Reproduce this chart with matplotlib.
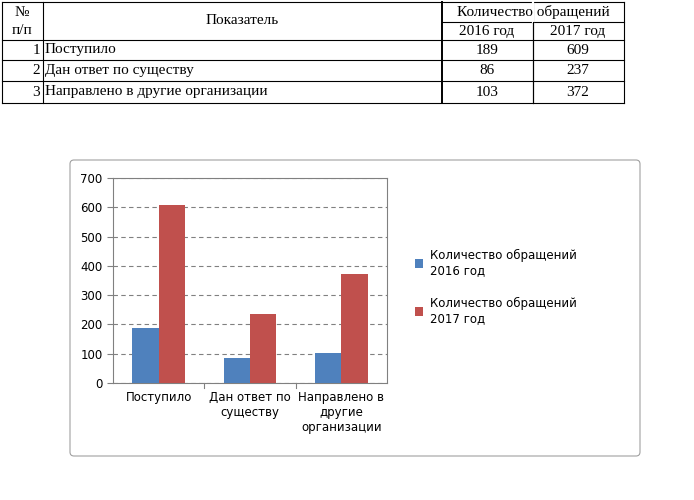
import matplotlib
matplotlib.use("Agg")
import matplotlib.pyplot as plt
from matplotlib.patches import FancyBboxPatch
import numpy as np

categories = ["Поступило", "Дан ответ по\nсуществу", "Направлено в\nдругие\nорганизации"]
table_names = ["Поступило", "Дан ответ по существу", "Направлено в другие организации"]
y2016 = [189, 86, 103]
y2017 = [609, 237, 372]
series_labels = ["Количество обращений\n2016 год", "Количество обращений\n2017 год"]
yticks = [0, 100, 200, 300, 400, 500, 600, 700]

W, H = 694, 500
fig = plt.figure(figsize=(W/100, H/100), dpi=100)

ov = fig.add_axes([0, 0, 1, 1])
ov.set_xlim(0, W); ov.set_ylim(H, 0); ov.axis("off")

serif = "Liberation Serif"
lw = 0.8
cols = [2, 43, 442, 533, 624]
rows = [2, 22, 40, 60, 81, 103]
ov.plot([2, 624], [2, 2], color="k", lw=lw)
ov.plot([442, 624], [22, 22], color="k", lw=lw)
for y in rows[2:]:
    ov.plot([2, 624], [y, y], color="k", lw=lw)
for x in cols:
    ov.plot([x, x], [2, 103], color="k", lw=1.4 if x == 442 else lw)
ov.plot([533, 533], [2, 22], color="w", lw=1.6)
ov.plot([533, 533], [22, 103], color="k", lw=lw)
fs = 11
ov.text(22, 12, "№", ha="center", va="center", family=serif, fontsize=fs)
ov.text(22, 31, "п/п", ha="center", va="center", family=serif, fontsize=fs)
ov.text(242, 21, "Показатель", ha="center", va="center", family=serif, fontsize=fs)
ov.text(533, 12, "Количество обращений", ha="center", va="center", family=serif, fontsize=fs)
ov.text(487, 31, "2016 год", ha="center", va="center", family=serif, fontsize=fs)
ov.text(578, 31, "2017 год", ha="center", va="center", family=serif, fontsize=fs)
for i, name in enumerate(table_names):
    yc = (rows[i+2] + rows[i+3]) / 2
    ov.text(40, yc, str(i+1), ha="right", va="center", family=serif, fontsize=fs)
    ov.text(45, yc, name, ha="left", va="center", family=serif, fontsize=fs)
    ov.text(487, yc, str(y2016[i]), ha="center", va="center", family=serif, fontsize=fs)
    ov.text(578, yc, str(y2017[i]), ha="center", va="center", family=serif, fontsize=fs)

ov.add_patch(FancyBboxPatch((70, 160), 570, 296, boxstyle="round,pad=0,rounding_size=4",
                            fc="white", ec="#A0A0A0", lw=0.8))

ax = fig.add_axes([113/W, (H-383)/H, 274/W, 205/H])
x = np.arange(len(categories))
w = 0.29
c1, c2 = "#4F81BD", "#C0504D"
ax.bar(x - w/2, y2016, w, color=c1, zorder=3, label=series_labels[0])
ax.bar(x + w/2, y2017, w, color=c2, zorder=3, label=series_labels[1])
ax.set_xlim(-0.5, 2.5)
ax.set_ylim(0, 700)
ax.set_yticks(yticks)
ax.yaxis.grid(True, ls=(0, (4, 3)), color="#808080", lw=0.8, zorder=0)
ax.set_xticks(x)
ax.set_xticklabels(categories, fontsize=8.5, family="DejaVu Sans")
ax.tick_params(axis="y", labelsize=8.5, length=4, color="#808080")
ax.tick_params(axis="x", length=0, pad=6)
for s in ax.spines.values():
    s.set_color("#808080"); s.set_linewidth(0.8)
for xb in [0.5, 1.5]:
    ax.plot([xb, xb], [0, -18], color="#808080", lw=0.8, clip_on=False)
ax.legend(loc="center left", bbox_to_anchor=((404 - 113)/274, 0.47), frameon=False,
          fontsize=8.5, handlelength=0.7, handleheight=0.7, labelspacing=1.7, handletextpad=0.6)

fig.savefig("out.png", dpi=100)
